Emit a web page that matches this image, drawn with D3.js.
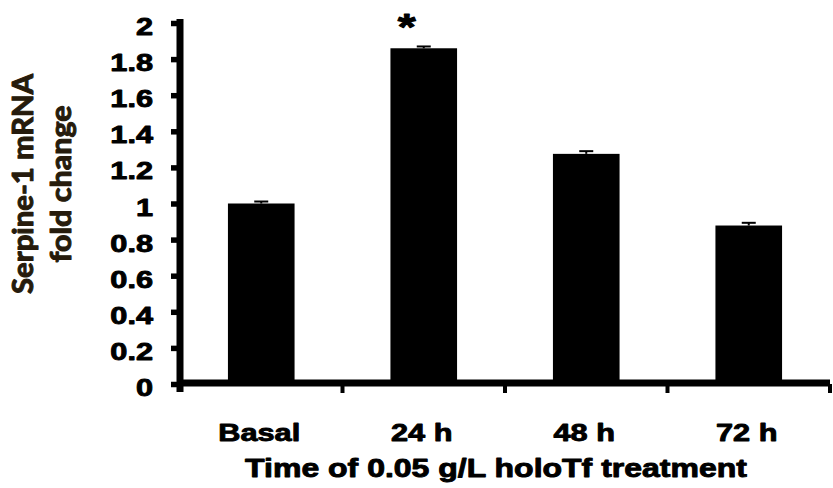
<!DOCTYPE html>
<html>
<head>
<meta charset="utf-8">
<script src="https://cdn.jsdelivr.net/npm/d3@7"></script>
<style>
  html, body { margin: 0; padding: 0; background: #fff; }
  svg { display: block; }
</style>
</head>
<body>
<svg id="chart" width="833" height="488"></svg>
<script>
// Serpine-1 mRNA fold change after holoTf treatment
const categories = ["Basal", "24 h", "48 h", "72 h"];
const foldChange = [1.0, 1.86, 1.275, 0.878];
const errors = [0.011, 0.01, 0.015, 0.015];
const significant = [false, true, false, false];
const yTicks = [0, 0.2, 0.4, 0.6, 0.8, 1, 1.2, 1.4, 1.6, 1.8, 2];
const yTickLabels = ["0", "0.2", "0.4", "0.6", "0.8", "1", "1.2", "1.4", "1.6", "1.8", "2"];
const yTitleLines = ["Serpine-1 mRNA", "fold change"];
const xTitle = "Time of 0.05 g/L holoTf treatment";

const svg = d3.select("#chart");
const plotLeft = 180, plotRight = 830, plotTop = 23, plotBottom = 384;
const stretch = 1.28;
const font = "'Liberation Sans', Arial, sans-serif";

const x = d3.scaleBand().domain(categories).range([plotLeft, plotRight]).padding(0);
const y = d3.scaleLinear().domain([0, 2]).range([plotBottom, plotTop]);
const barW = x.bandwidth() * 0.41;

// heavy text helper
function heavy(sel, w) {
  return sel.attr("stroke", "#000").attr("stroke-width", w).attr("stroke-linejoin", "round");
}

// bars
svg.append("g").selectAll("rect")
  .data(categories)
  .join("rect")
  .attr("x", d => x(d) + x.bandwidth() / 2 - barW / 2)
  .attr("y", (d, i) => y(foldChange[i]))
  .attr("width", barW)
  .attr("height", (d, i) => y(0) - y(foldChange[i]))
  .attr("fill", "#000");

// error bars (upper)
const eb = svg.append("g").attr("stroke", "#000").attr("stroke-width", 2);
categories.forEach((c, i) => {
  const cx = x(c) + x.bandwidth() / 2;
  eb.append("line").attr("x1", cx).attr("x2", cx)
    .attr("y1", y(foldChange[i])).attr("y2", y(foldChange[i] + errors[i]));
  eb.append("line").attr("x1", cx - 7).attr("x2", cx + 7)
    .attr("y1", y(foldChange[i] + errors[i])).attr("y2", y(foldChange[i] + errors[i]));
});

// significance marks
categories.forEach((c, i) => {
  if (!significant[i]) return;
  const cx = x(c) + x.bandwidth() / 2 - 17;
  heavy(svg.append("text"), 1)
    .attr("transform", `translate(${cx},${y(foldChange[i] + errors[i]) - 6}) scale(${stretch},1)`)
    .attr("text-anchor", "middle")
    .attr("font-family", font).attr("font-weight", "bold").attr("font-size", 36)
    .text("*");
});

// y axis
const yAxis = d3.axisLeft(y).tickValues(yTicks).tickSize(9).tickFormat("");
const gy = svg.append("g").attr("transform", `translate(${plotLeft},0)`).call(yAxis);
gy.select(".domain").remove();
gy.selectAll(".tick line").attr("stroke", "#000").attr("stroke-width", 5.5);
svg.append("line").attr("x1", plotLeft).attr("x2", plotLeft)
  .attr("y1", y(2) - 4).attr("y2", y(0) + 8)
  .attr("stroke", "#000").attr("stroke-width", 7);

heavy(svg.append("g").selectAll("text")
  .data(yTicks)
  .join("text"), 0.9)
  .attr("transform", d => `translate(153,${y(d) + 12}) scale(${stretch},1)`)
  .attr("text-anchor", "end")
  .attr("font-family", font).attr("font-weight", "bold").attr("font-size", 24)
  .attr("fill", "#000")
  .text((d, i) => yTickLabels[i]);

// x axis: ticks at band boundaries
const boundaries = categories.map(c => x(c)).concat([plotRight]);
const gx = svg.append("g");
gx.selectAll("line.tk")
  .data(boundaries.slice(1))
  .join("line")
  .attr("x1", d => d).attr("x2", d => d)
  .attr("y1", plotBottom).attr("y2", plotBottom + 9)
  .attr("stroke", "#000").attr("stroke-width", 4);
gx.append("line").attr("x1", plotLeft - 3).attr("x2", plotRight)
  .attr("y1", plotBottom - 1).attr("y2", plotBottom - 1)
  .attr("stroke", "#000").attr("stroke-width", 7);

heavy(svg.append("g").selectAll("text")
  .data(categories)
  .join("text"), 0.9)
  .attr("transform", d => `translate(${x(d) + x.bandwidth() / 2 - 2},441) scale(${stretch},1)`)
  .attr("text-anchor", "middle")
  .attr("font-family", font).attr("font-weight", "bold").attr("font-size", 24)
  .attr("fill", "#000")
  .text(d => d);

// axis titles
heavy(svg.append("text"), 0.9)
  .attr("transform", `translate(496,477) scale(${stretch},1)`)
  .attr("text-anchor", "middle")
  .attr("font-family", font).attr("font-weight", "bold").attr("font-size", 25)
  .attr("fill", "#000")
  .text(xTitle);

const yTitleBase = [33, 71];
const yTitleLen = [220, 157];
yTitleLines.forEach((t, i) => {
  svg.append("text")
    .attr("transform", `translate(${yTitleBase[i]},184) scale(${stretch},1) rotate(-90)`)
    .attr("text-anchor", "middle")
    .attr("font-family", "Lato, 'Open Sans', sans-serif").attr("font-weight", "bold")
    .attr("font-size", 22)
    .attr("textLength", yTitleLen[i]).attr("lengthAdjust", "spacingAndGlyphs")
    .attr("fill", "#261b0c")
    .attr("stroke", "#261b0c").attr("stroke-width", 0.8).attr("stroke-linejoin", "round")
    .text(t);
});
</script>
</body>
</html>
